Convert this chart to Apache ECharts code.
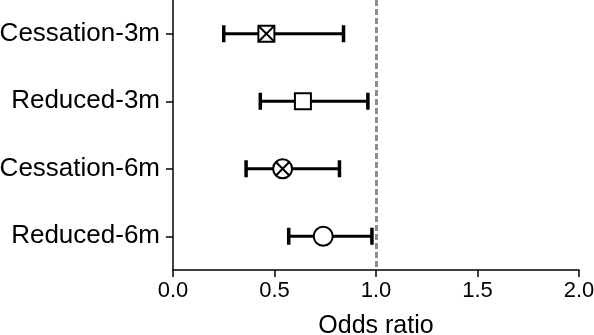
<!DOCTYPE html>
<html>
<head>
<meta charset="utf-8">
<script src="https://cdn.jsdelivr.net/npm/echarts@6/dist/echarts.min.js"></script>
<style>
  html, body { margin: 0; padding: 0; background: #fff; }
  #chart { width: 594px; height: 335px; }
</style>
</head>
<body>
<div id="chart"></div>
<script>
const chart = echarts.init(document.getElementById('chart'));

const categories = ['Cessation-3m', 'Reduced-3m', 'Cessation-6m', 'Reduced-6m'];
const oddsRatio = [0.46, 0.64, 0.54, 0.74];
const ciLower = [0.25, 0.43, 0.36, 0.57];
const ciUpper = [0.84, 0.96, 0.82, 0.98];
const refLine = 1.0;

// marker shape per category
const markerShapes = ['squareCross', 'square', 'circleCross', 'circle'];

const FONT = 'Liberation Sans';

function renderBar(params, api) {
  const lo = api.coord([api.value(0), api.value(1)]);
  const hi = api.coord([api.value(2), api.value(1)]);
  const h = 8.5;
  const style = { stroke: '#000', lineWidth: 3 };
  const capStyle = { stroke: '#000', lineWidth: 3.5 };
  return {
    type: 'group',
    children: [
      { type: 'line', shape: { x1: lo[0], y1: lo[1], x2: hi[0], y2: hi[1] }, style },
      { type: 'line', shape: { x1: lo[0], y1: lo[1] - h, x2: lo[0], y2: lo[1] + h }, style: capStyle },
      { type: 'line', shape: { x1: hi[0], y1: hi[1] - h, x2: hi[0], y2: hi[1] + h }, style: capStyle }
    ]
  };
}

function renderPoint(params, api) {
  const p = api.coord([api.value(0), api.value(1)]);
  const shape = markerShapes[params.dataIndex];
  const style = { stroke: '#000', lineWidth: 2, fill: '#fff' };
  const lineStyle = { stroke: '#000', lineWidth: 2 };
  const children = [];
  if (shape.startsWith('square')) {
    const s = 8;
    children.push({ type: 'rect', shape: { x: p[0] - s, y: p[1] - s, width: 2 * s, height: 2 * s }, style });
    if (shape === 'squareCross') {
      children.push({ type: 'line', shape: { x1: p[0] - s, y1: p[1] - s, x2: p[0] + s, y2: p[1] + s }, style: lineStyle });
      children.push({ type: 'line', shape: { x1: p[0] - s, y1: p[1] + s, x2: p[0] + s, y2: p[1] - s }, style: lineStyle });
    }
  } else {
    const r = 9.5;
    children.push({ type: 'circle', shape: { cx: p[0], cy: p[1], r }, style });
    if (shape === 'circleCross') {
      const d = r * Math.SQRT1_2;
      children.push({ type: 'line', shape: { x1: p[0] - d, y1: p[1] - d, x2: p[0] + d, y2: p[1] + d }, style: lineStyle });
      children.push({ type: 'line', shape: { x1: p[0] - d, y1: p[1] + d, x2: p[0] + d, y2: p[1] - d }, style: lineStyle });
    }
  }
  return { type: 'group', children };
}

chart.setOption({
  animation: false,
  grid: { left: 173, right: 15, top: 0, bottom: 65, containLabel: false, outerBoundsMode: 'none' },
  xAxis: {
    type: 'value',
    min: 0,
    max: 2,
    interval: 0.5,
    name: 'Odds ratio',
    nameLocation: 'middle',
    nameGap: 44,
    nameTextStyle: { fontFamily: FONT, fontSize: 25, color: '#000' },
    axisLine: { show: true, lineStyle: { color: '#000', width: 1.5 } },
    axisTick: { show: true, length: 7, lineStyle: { color: '#000', width: 1.5 } },
    axisLabel: {
      margin: 10,
      fontFamily: FONT,
      fontSize: 22,
      color: '#000',
      formatter: v => v.toFixed(1)
    },
    splitLine: { show: false }
  },
  yAxis: {
    type: 'category',
    data: categories,
    inverse: true,
    axisLine: { show: true, lineStyle: { color: '#000', width: 1.5 } },
    axisTick: { show: true, alignWithLabel: true, length: 7, lineStyle: { color: '#000', width: 1.5 } },
    axisLabel: { margin: 13, fontFamily: FONT, fontSize: 26, color: '#000' },
    splitLine: { show: false }
  },
  series: [
    {
      type: 'scatter',
      data: [],
      markLine: {
        silent: true,
        symbol: 'none',
        label: { show: false },
        lineStyle: { color: '#8c8c8c', type: [6, 3], width: 3 },
        data: [{ xAxis: refLine }]
      }
    },
    {
      type: 'custom',
      renderItem: renderBar,
      data: categories.map((c, i) => [ciLower[i], i, ciUpper[i]])
    },
    {
      type: 'custom',
      renderItem: renderPoint,
      data: categories.map((c, i) => [oddsRatio[i], i])
    }
  ]
});
</script>
</body>
</html>
